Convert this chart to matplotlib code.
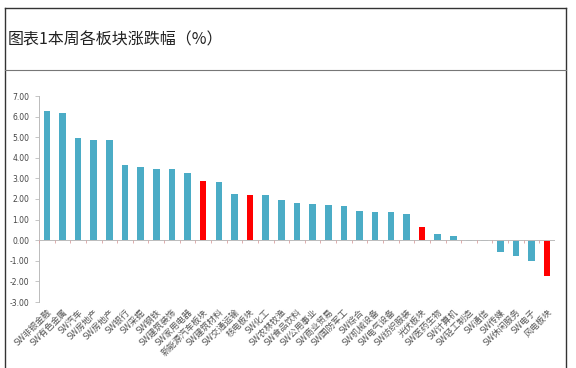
import numpy as np
import matplotlib
matplotlib.use("Agg")
import matplotlib.pyplot as plt
from matplotlib.lines import Line2D

plt.rcParams["font.family"] = ["Noto Sans CJK SC", "DejaVu Sans"]

# sectors, ordered as in the reference
sectors = [
    "SW非银金融", "SW有色金属", "SW汽车", "SW房地产", "SW房地产", "SW银行",
    "SW采掘", "SW钢铁", "SW建筑装饰", "SW家用电器", "新能源汽车板块", "SW建筑材料",
    "SW交通运输", "核电板块", "SW化工", "SW农林牧渔", "SW食品饮料", "SW公用事业",
    "SW商业贸易", "SW国防军工", "SW综合", "SW机械设备", "SW电气设备", "SW纺织服装",
    "光伏板块", "SW医药生物", "SW计算机", "SW轻工制造", "SW通信", "SW传媒",
    "SW休闲服务", "SW电子", "风电板块",
]
changes = [
    6.26, 6.17, 4.94, 4.86, 4.86, 3.65,
    3.55, 3.47, 3.44, 3.26, 2.87, 2.83,
    2.23, 2.20, 2.18, 1.94, 1.79, 1.78,
    1.71, 1.68, 1.41, 1.36, 1.36, 1.25,
    0.63, 0.30, 0.18, -0.03, -0.05, -0.55,
    -0.79, -1.00, -1.74,
]
highlight = ["新能源汽车板块", "核电板块", "光伏板块", "风电板块"]

BLUE = "#4bacc6"
RED = "#ff0000"

fig = plt.figure(figsize=(5.76, 3.68), dpi=100)
W, H = 576, 368
ax = fig.add_axes([39 / W, 1 - 302 / H, (555 - 39) / W, (302 - 96) / H])

x = np.arange(len(sectors))
colors = [RED if s in highlight else BLUE for s in sectors]
ax.bar(x, changes, width=0.42, color=colors, zorder=2)

ax.set_xlim(-0.5, len(sectors) - 0.5)
ax.set_ylim(-3, 7)
ax.set_yticks(np.arange(-3, 8, 1))
ax.set_yticklabels([f"{v:.2f}" for v in np.arange(-3, 8, 1)], fontsize=5.5,
                   color="#444444", family="DejaVu Sans")
ax.tick_params(axis="y", length=3, width=0.6, color="#bbbbbb", pad=4)

ax.set_xticks(x)
ax.set_xticklabels(sectors, rotation=45, ha="right", rotation_mode="anchor",
                   fontsize=6.3, color="#555555")
ax.tick_params(axis="x", length=0, pad=4)

for side in ("top", "right", "bottom"):
    ax.spines[side].set_visible(False)
ax.spines["left"].set_color("#bbbbbb")
ax.spines["left"].set_linewidth(0.7)

# category axis on the zero line with small tick marks between categories
ax.axhline(0, color="#bbbbbb", linewidth=0.7, zorder=3)
ax.vlines(np.arange(len(sectors) + 1) - 0.5, -0.12, 0, color="#d9a0a0",
          linewidth=0.6, zorder=3)

# report-style frame and title
frame = dict(color="#333333", linewidth=1.0)
fig.add_artist(Line2D([5 / W, 5 / W], [0, 1 - 8 / H], **frame))
fig.add_artist(Line2D([566 / W, 566 / W], [0, 1 - 8 / H], **frame))
fig.add_artist(Line2D([5 / W, 566 / W], [1 - 8 / H, 1 - 8 / H], **frame))
fig.add_artist(Line2D([5 / W, 566 / W], [1 - 70 / H, 1 - 70 / H],
                      color="#777777", linewidth=0.8))
fig.text(8 / W, 1 - 40 / H, "图表1本周各板块涨跌幅（%）", fontsize=11.5,
         va="center", ha="left", color="#222222")

fig.savefig("out.png", dpi=100)
